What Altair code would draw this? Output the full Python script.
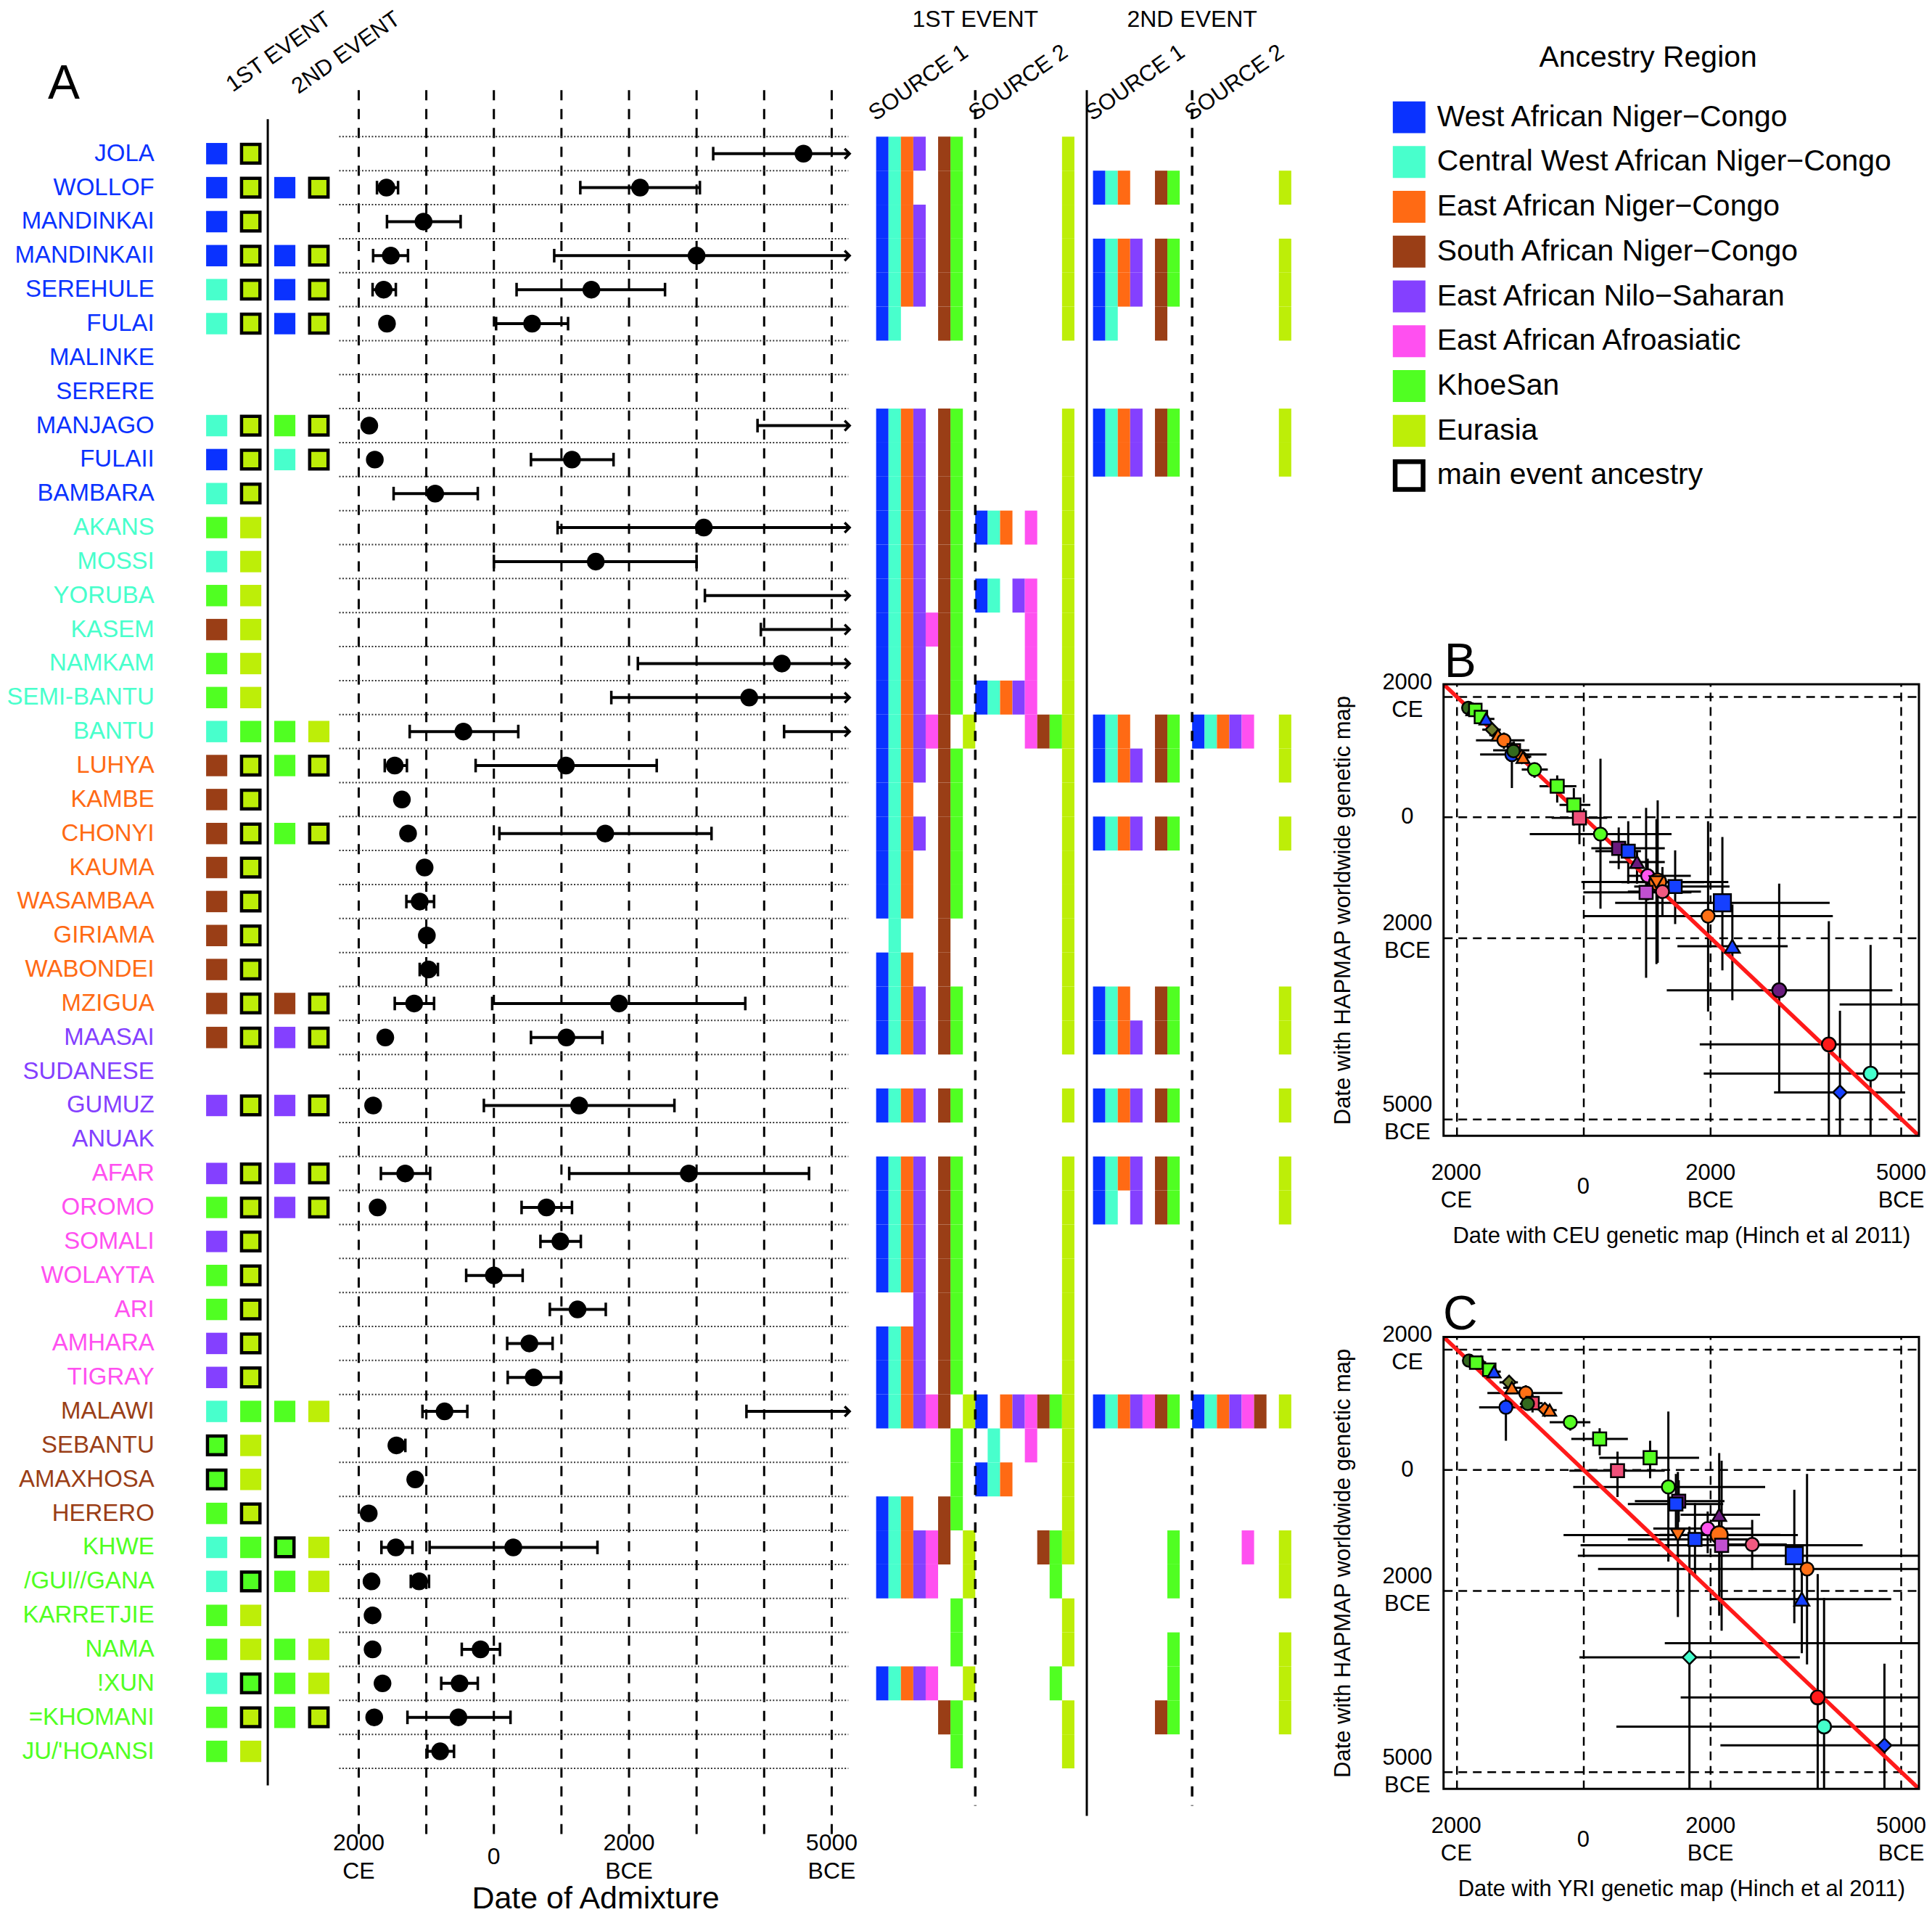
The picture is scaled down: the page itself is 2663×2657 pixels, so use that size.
import altair as alt
import pandas as pd

FONT = "Liberation Sans"

# ------------------------------------------------------------------ data
region_codes = ["W", "C", "E", "S", "N", "A", "K", "U"]
region_names = ["West African Niger−Congo", "Central West African Niger−Congo",
                "East African Niger−Congo", "South African Niger−Congo",
                "East African Nilo−Saharan", "East African Afroasiatic", "KhoeSan", "Eurasia"]
region_colors = ["#0A32FF", "#48FFCC", "#FF6A14", "#9A3E16", "#8440FF", "#FF50F0", "#50FF22", "#BDEE08"]
bar_order = ["W", "C", "E", "N", "A", "S", "K", "U"]

populations = ["JOLA", "WOLLOF", "MANDINKAI", "MANDINKAII", "SEREHULE", "FULAI", "MALINKE", "SERERE",
               "MANJAGO", "FULAII", "BAMBARA", "AKANS", "MOSSI", "YORUBA", "KASEM", "NAMKAM",
               "SEMI-BANTU", "BANTU", "LUHYA", "KAMBE", "CHONYI", "KAUMA", "WASAMBAA", "GIRIAMA",
               "WABONDEI", "MZIGUA", "MAASAI", "SUDANESE", "GUMUZ", "ANUAK", "AFAR", "OROMO",
               "SOMALI", "WOLAYTA", "ARI", "AMHARA", "TIGRAY", "MALAWI", "SEBANTU", "AMAXHOSA",
               "HERERO", "KHWE", "/GUI//GANA", "KARRETJIE", "NAMA", "!XUN", "=KHOMANI", "JU/'HOANSI"]
pop_group = ["W"] * 11 + ["C"] * 7 + ["E"] * 8 + ["N"] * 4 + ["A"] * 7 + ["S"] * 4 + ["K"] * 7

# event squares (1 = first square bordered, 2 = second square bordered)
ev1_first = ["W", "W", "W", "W", "C", "C", "", "", "C", "W", "C", "K", "C", "K", "S", "K", "K", "C",
             "S", "S", "S", "S", "S", "S", "S", "S", "S", "", "N", "", "N", "K", "N", "K", "K", "N",
             "N", "C", "K", "K", "K", "C", "C", "K", "K", "C", "K", "K"]
ev1_second = ["U", "U", "U", "U", "U", "U", "", "", "U", "U", "U", "U", "U", "U", "U", "U", "U", "K",
              "U", "U", "U", "U", "U", "U", "U", "U", "U", "", "U", "", "U", "U", "U", "U", "U", "U",
              "U", "K", "U", "U", "U", "K", "K", "U", "U", "K", "U", "U"]
ev1_main = [2, 2, 2, 2, 2, 2, 0, 0, 2, 2, 2, 0, 0, 0, 0, 0, 0, 0,
            2, 2, 2, 2, 2, 2, 2, 2, 2, 0, 2, 0, 2, 2, 2, 2, 2, 2,
            2, 0, 1, 1, 2, 0, 2, 0, 0, 2, 2, 0]
ev2_first = ["", "W", "", "W", "W", "W", "", "", "K", "C", "", "", "", "", "", "", "", "K",
             "K", "", "K", "", "", "", "", "S", "N", "", "N", "", "N", "N", "", "", "", "",
             "", "K", "", "", "", "K", "K", "", "K", "K", "K", ""]
ev2_second = ["", "U", "", "U", "U", "U", "", "", "U", "U", "", "", "", "", "", "", "", "U",
              "U", "", "U", "", "", "", "", "U", "U", "", "U", "", "U", "U", "", "", "", "",
              "", "U", "", "", "", "U", "U", "", "U", "U", "U", ""]
ev2_main = [0, 2, 0, 2, 2, 2, 0, 0, 2, 2, 0, 0, 0, 0, 0, 0, 0, 0,
            2, 0, 2, 0, 0, 0, 0, 2, 2, 0, 2, 0, 2, 2, 0, 0, 0, 0,
            0, 0, 0, 0, 0, 1, 0, 0, 0, 0, 2, 0]

# admixture sources (ancestry codes present)
src_e1s1 = ["WCENSK", "WCESK", "WCENSK", "WCENSK", "WCENSK", "WCSK", "", "", "WCENSK", "WCENSK",
            "WCENSK", "WCENSK", "WCENSK", "WCENSK", "WCENASK", "WCENSK", "WCENSK", "WCENASU",
            "WCENSK", "WCESK", "WCENSK", "WCESK", "WCESK", "CS", "WCES", "WCENSK", "WCENSK", "",
            "WCENSK", "", "WCENSK", "WCENSK", "WCENSK", "WCENSK", "NSK", "WCENSK", "WCENSK",
            "WCENASU", "K", "K", "WCESK", "WCENASU", "WCENAU", "K", "K", "WCENAU", "SK", "K"]
src_e1s2 = ["U", "U", "U", "U", "U", "U", "", "", "U", "U", "U", "WCEAU", "U", "WCNAU", "AU", "AU",
            "WCENAU", "ASKU", "U", "U", "U", "U", "U", "U", "U", "U", "U", "", "U", "", "U", "U",
            "U", "U", "U", "U", "U", "WENASKU", "CAU", "WCEU", "U", "SKU", "K", "U", "U", "K", "U", "U"]
src_e2s1 = ["", "WCESK", "", "WCENSK", "WCENSK", "WCS", "", "", "WCENSK", "WCENSK", "", "", "", "",
            "", "", "", "WCESK", "WCENSK", "", "WCENSK", "", "", "", "", "WCESK", "WCENSK", "",
            "WCENSK", "", "WCENSK", "WCNSK", "", "", "", "", "", "WCENASK", "", "", "", "K", "K",
            "", "K", "K", "SK", ""]
src_e2s2 = ["", "U", "", "U", "U", "U", "", "", "U", "U", "", "", "", "", "", "", "", "WCENAU",
            "U", "", "U", "", "", "", "", "U", "U", "", "U", "", "U", "U", "", "", "", "", "",
            "WCENASU", "", "", "", "AU", "U", "", "U", "U", "U", ""]

# admixture dates (years BCE; negative = CE)
date_row = [0, 1, 1, 2, 3, 3, 4, 4, 5, 5, 8, 8, 9, 9, 10, 11, 12, 13, 14, 15, 16, 17, 17, 18, 18, 19,
            20, 20, 21, 22, 23, 24, 25, 25, 26, 26, 28, 28, 30, 30, 31, 31, 32, 33, 34, 35, 36, 37,
            37, 38, 39, 40, 41, 41, 42, 42, 43, 44, 44, 45, 45, 46, 46, 47]
date_est = [4582, -1590, 2164, -1041, -1525, 3000, -1631, 1443, -1582, 566, -1844, None, -1762, 1156,
            -869, 3107, 1508, None, None, 4262, 3779, -451, None, -1467, 1066, -1361, -1270, 1648,
            -1025, -1098, -992, -967, -1180, 1852, -1607, 1074, -1787, 1262, -1312, 2885, -1721, 779,
            984, 0, 1238, 525, 590, -730, None, -1443, -1164, -1852, -1451, 287, -1811, -1107, -1795,
            -1795, -197, -1648, -508, -1771, -525, -795]
date_lo = [3246, -1730, 1279, -1582, -1787, 893, -1795, 336, None, 33, None, 3902, None, 549, -1484,
           943, 0, 3123, 3951, 2131, 1738, -1246, 4295, -1615, -270, -1430, None, 82, -1090, -1295,
           None, -1098, -1467, -25, -1670, 549, None, -148, -1672, 1115, None, 410, 689, -410, 828,
           197, 205, -1057, 3738, -1500, None, None, -1664, -951, None, -1230, None, None, -475,
           None, -779, None, -1279, -984]
date_hi = [None, -1418, 3049, -492, -1271, None, -1451, 2533, None, 1098, None, None, None, 1771, -238,
           None, 3000, None, None, None, None, 361, None, -1287, 2410, -1300, None, 3221, -965, -885,
           None, -828, -885, 3721, -1545, 1607, None, 2672, -943, 4664, None, 1156, 1287, 426, 1656,
           869, 992, -393, None, -1310, None, None, -1205, 1533, None, -960, None, None, 90, None,
           -238, None, 246, -590]
date_arrow = [True, False, False, False, False, True, False, False, False, False, False, True, False,
              False, False, True, False, True, True, True, True, False, True, False, False, False,
              False, False, False, False, False, False, False, False, False, False, False, False,
              False, False, False, False, False, False, False, False, False, False, True, False,
              False, False, False, False, False, False, False, False, False, False, False, False,
              False, False]
ARROW_END = 5265
tick_vals = [-2000, 0, 2000, 5000]
tick_text = ["2000\nCE", "0", "2000\nBCE", "5000\nBCE"]
grid_vals = [-2000, -1000, 0, 1000, 2000, 3000, 4000, 5000]

# panels B / C : HAPMAP date (y) versus CEU (B) and YRI (C) dates
pt_shape = ["circle", "triangle-up", "square", "square", "triangle-up", "diamond", "triangle-up",
            "circle", "square", "circle", "diamond", "triangle-up", "circle", "circle", "square",
            "square", "square", "circle", "square", "square", "triangle-up", "circle", "circle",
            "triangle-down", "square", "square", "circle", "square", "circle", "triangle-up",
            "circle", "circle", "circle", "diamond", "diamond"]
pt_color = ["#33691E", "#6A1B7E", "#55FF22", "#55FF22", "#1540FF", "#6B7A2A", "#FF7015", "#FF7015",
            "#EE4466", "#1540FF", "#FF7015", "#FF7015", "#33691E", "#55FF22", "#55FF22", "#55FF22",
            "#F0507A", "#55FF22", "#6A1B7E", "#1540FF", "#6A1B7E", "#FF55EE", "#FF7015", "#FF7015",
            "#1540FF", "#C050D0", "#F05A80", "#1540FF", "#FF7015", "#1540FF", "#6A1B7E", "#FF1A1A",
            "#44FFCC", "#1540FF", "#44FFCC"]
pt_size = [290, 330, 300, 300, 330, 330, 320, 330, 300, 330, 330, 320, 300, 330, 330, 330, 330, 330,
           330, 330, 370, 330, 560, 370, 330, 330, 330, 560, 330, 430, 370, 370, 370, 370, 370]
hap_y = [-1808, -1780, -1775, -1656, -1625, -1449, -1359, -1270, -1104, -1035, -1000, -988, -1093,
         -787, -511, -200, 14, 283, 518, 566, 745, 973, 1076, 1079, 1152, 1249, 1235, 1421, 1642,
         2139, 2870, 3767, 4250, 4561, 3104]
hap_lo = [-1850, -1830, -1820, -1720, -1700, -1560, -1450, -1400, -1250, -1240, -1100, -1080, -1180,
          -900, -690, -480, -300, -966, 173, 69, 552, 690, -276, 35, 552, -152, 828, 331, 69, 1449,
          1104, 1725, 2118, 3209, 940]
hap_hi = [-1760, -1730, -1730, -1590, -1550, -1350, -1270, -1130, -950, -480, -900, -900, -1000,
          -650, -240, 140, 450, 1518, 863, 1104, 1104, 1380, 2415, 2436, 1773, 2663, 1656, 2540, 3221,
          3035, 4554, 6000, 6000, 6000, 6000]
ceu_x = [-1812, -1737, -1700, -1612, -1531, -1437, -1343, -1250, -1094, -1125, -969, -950, -1100,
         -769, -412, -150, -62, 269, 556, 706, 844, 1012, 1169, 1150, 1444, 987, 1244, 2187, 1962,
         2344, 3081, 3862, 4519, 4037, 5700]
ceu_lo = [-1860, -1790, -1760, -1690, -1610, -1590, -1480, -1690, -1420, -1625, -1100, -1060, -1200,
          -970, -690, -375, -500, -844, 125, 188, 406, 690, -31, 600, 800, 0, 700, 500, 0, 1480,
          1312, 1831, 1894, 3000, 4031]
ceu_hi = [-1770, -1690, -1640, -1530, -1400, -1300, -1200, -925, -850, -580, -820, -840, -1000,
          -560, -110, 110, 375, 1387, 1281, 906, 1281, 1690, 2281, 1900, 2300, 1700, 1850, 3875, 3925,
          3215, 4862, 6000, 6000, 5062, 7000]
yri_x = [-1800, -1612, -1687, -1481, -1406, -1169, -1125, -906, -800, -1219, -606, -531, -875, -206,
         256, 1050, 537, 1337, 1500, 1456, 2137, 1956, 2137, 1487, 1756, 2175, 2656, 3319, 3519,
         3437, 5700, 3687, 3787, 4737, 1669]
yri_lo = [-1850, -1700, -1760, -1570, -1500, -1320, -1260, -1510, -960, -1640, -720, -640, -1000,
          -530, -190, 250, -220, -160, 810, 700, 1530, 1100, 1200, -312, 700, -44, 2100, -87, 231,
          2000, 1281, 1531, 519, 2156, -62]
yri_hi = [-1750, -1530, -1620, -1400, -1300, -1030, -980, -330, -640, -950, -490, -420, -750, 110,
          700, 1820, 1280, 2860, 2220, 2200, 2780, 2650, 3100, 3375, 2600, 4394, 3200, 6000, 6000,
          4844, 7000, 6000, 6000, 6000, 3406]
diag = [-2200, 5280]

# ------------------------------------------------------------------ layout (page pixels)
TOP, H = 8, 2630
ROW_Y0, ROW_H = 210.5, 46.9
Y_DOM = [(TOP - ROW_Y0) / ROW_H, (TOP + H - ROW_Y0) / ROW_H]
P1_L, P1_W, COL_X0, COL_W = 8, 455, 252, 47
P2_L, P2_W, X_ZERO, PX_YR = 463, 717, 681.5, 0.09324
P3_L, P3_W, SRC_X0, SRC_W = 1180, 812, 1209, 17.1
P4_W = 656
X1_DOM = [(P1_L - COL_X0) / COL_W, (P1_L + P1_W - COL_X0) / COL_W]
X2_DOM = [(P2_L - X_ZERO) / PX_YR, (P2_L + P2_W - X_ZERO) / PX_YR]
X3_DOM = [(P3_L - SRC_X0) / SRC_W, (P3_L + P3_W - SRC_X0) / SRC_W]

Y_SC = alt.Scale(domain=Y_DOM, reverse=True, nice=False, zero=False)
COLOR_SC = alt.Scale(domain=region_codes, range=region_colors)
ONE = pd.DataFrame({"k": [0]})


def place(chart, **kw):
    """fixed annotation positions, expressed in the panel's data units"""
    return chart.transform_calculate(**{k: repr(float(v)) for k, v in kw.items()})


def Yq(field):
    return alt.Y(field, scale=Y_SC, axis=None)


# ------------------------------------------------------------------ panel A: labels + squares
sq_records = []
for r in range(len(populations)):
    for col, code, main in [(1, ev1_first[r], ev1_main[r] == 1), (2, ev1_second[r], ev1_main[r] == 2),
                            (3, ev2_first[r], ev2_main[r] == 1), (4, ev2_second[r], ev2_main[r] == 2)]:
        if code:
            sq_records.append({"row": r, "col": col, "code": code, "main": 1 if main else 0})
sq_df = pd.DataFrame(sq_records)
X1_SC = alt.Scale(domain=X1_DOM, nice=False, zero=False)

sq_plain = alt.Chart(sq_df).transform_filter("datum.main == 0").transform_calculate(
    xa="datum.col - 0.31", xb="datum.col + 0.31", ya="datum.row - 0.3145", yb="datum.row + 0.3145"
).mark_rect().encode(
    x=alt.X("xa:Q", scale=X1_SC, axis=None), x2="xb:Q", y=Yq("ya:Q"), y2="yb:Q",
    color=alt.Color("code:N", scale=COLOR_SC, legend=None))
sq_main = alt.Chart(sq_df).transform_filter("datum.main == 1").transform_calculate(
    xa="datum.col - 0.27", xb="datum.col + 0.27", ya="datum.row - 0.275", yb="datum.row + 0.275"
).mark_rect(stroke="black", strokeWidth=4.5).encode(
    x=alt.X("xa:Q", scale=X1_SC, axis=None), x2="xb:Q", y=Yq("ya:Q"), y2="yb:Q",
    color=alt.Color("code:N", scale=COLOR_SC, legend=None))

lab_df = pd.DataFrame({"row": list(range(len(populations))), "name": populations, "grp": pop_group})
labels = place(alt.Chart(lab_df), lx=-0.83).mark_text(align="right", baseline="middle", fontSize=33).encode(
    x=alt.X("lx:Q", scale=X1_SC, axis=None), y=Yq("row:Q"), text="name:N",
    color=alt.Color("grp:N", scale=COLOR_SC, legend=None))

sep_line = place(alt.Chart(ONE), sx=2.5, sy1=-1.013, sy2=48.0).mark_rule(color="black", strokeWidth=3).encode(
    x=alt.X("sx:Q", scale=X1_SC, axis=None), y=Yq("sy1:Q"), y2="sy2:Q")

ev_head = alt.Chart(pd.DataFrame({"t": ["1ST EVENT", "2ND EVENT"], "c": [1.47, 3.40], "r": [-1.80, -1.74]})
                    ).mark_text(angle=325, align="left", baseline="alphabetic", fontSize=31).encode(
    x=alt.X("c:Q", scale=X1_SC, axis=None), y=Yq("r:Q"), text="t:N")
letter_a = place(alt.Chart(pd.DataFrame({"t": ["A"]})), ax=-3.49, ay=-2.04).mark_text(
    fontSize=66, baseline="middle").encode(
    x=alt.X("ax:Q", scale=X1_SC, axis=None), y=Yq("ay:Q"), text="t:N")

p1 = alt.layer(sq_plain, sq_main, labels, sep_line, ev_head, letter_a).properties(width=P1_W, height=H)

# ------------------------------------------------------------------ panel A: dates
X2_SC = alt.Scale(domain=X2_DOM, nice=False, zero=False)
dates = pd.DataFrame({"row": date_row, "est": date_est, "lo": date_lo, "hi": date_hi,
                      "arrow": [1 if a else 0 for a in date_arrow]})


def Xd(field):
    return alt.X(field, scale=X2_SC, axis=None)


vgrid = place(alt.Chart(pd.DataFrame({"v": grid_vals})), g1=-1.866, g2=49.46).mark_rule(
    color="black", strokeWidth=3, strokeDash=[14, 12]).encode(x=Xd("v:Q"), y=Yq("g1:Q"), y2="g2:Q")
hgrid = place(alt.Chart(pd.DataFrame({"b": [r - 0.5 for r in range(len(populations) + 1)]})),
              h1=-2290, h2=5246).mark_rule(color="#333333", strokeWidth=2, strokeDash=[2, 2.5]).encode(
    y=Yq("b:Q"), x=Xd("h1:Q"), x2="h2:Q")
ci = alt.Chart(dates).transform_filter("isValid(datum.lo)").transform_calculate(
    xe=f"datum.arrow == 1 ? {ARROW_END} : datum.hi").mark_rule(color="black", strokeWidth=4).encode(
    x=Xd("lo:Q"), x2="xe:Q", y=Yq("row:Q"))
cap_lo = alt.Chart(dates).transform_filter("isValid(datum.lo)").transform_calculate(
    ya="datum.row - 0.2", yb="datum.row + 0.2").mark_rule(color="black", strokeWidth=3.5).encode(
    x=Xd("lo:Q"), y=Yq("ya:Q"), y2="yb:Q")
cap_hi = alt.Chart(dates).transform_filter("isValid(datum.hi) && datum.arrow == 0").transform_calculate(
    ya="datum.row - 0.2", yb="datum.row + 0.2").mark_rule(color="black", strokeWidth=3.5).encode(
    x=Xd("hi:Q"), y=Yq("ya:Q"), y2="yb:Q")
arrows = place(alt.Chart(dates).transform_filter("datum.arrow == 1"), ax=ARROW_END).mark_point(
    shape="M -1 -1 L 0 0 L -1 1", filled=False, stroke="black", strokeWidth=3.5, size=190, opacity=1
).encode(x=Xd("ax:Q"), y=Yq("row:Q"))
dots = alt.Chart(dates).transform_filter("isValid(datum.est)").mark_circle(
    color="black", size=600, opacity=1).encode(x=Xd("est:Q"), y=Yq("row:Q"))
# two-line labels: first line sits half a line above the label centre
ticks_a = alt.Chart(pd.DataFrame({"v": tick_vals, "t": tick_text})).transform_calculate(
    ty="indexof(datum.t, '\\n') >= 0 ? 49.69 : 50.11").mark_text(
    lineBreak="\n", baseline="middle", fontSize=32, lineHeight=39).encode(
    x=Xd("v:Q"), y=Yq("ty:Q"), text="t:N")
xtitle_a = place(alt.Chart(pd.DataFrame({"t": ["Date of Admixture"]})), tx=1507, ty=51.63).mark_text(
    fontSize=43, baseline="alphabetic").encode(x=Xd("tx:Q"), y=Yq("ty:Q"), text="t:N")

p2 = alt.layer(vgrid, hgrid, ci, cap_lo, cap_hi, arrows, dots, ticks_a, xtitle_a).properties(
    width=P2_W, height=H)

# ------------------------------------------------------------------ panel A: sources
X3_SC = alt.Scale(domain=X3_DOM, nice=False, zero=False)


def Xs(field):
    return alt.X(field, scale=X3_SC, axis=None)


src_offsets = [0, 8, 17.5, 25.5]
bar_records = []
for r in range(len(populations)):
    for off, s in zip(src_offsets, [src_e1s1[r], src_e1s2[r], src_e2s1[r], src_e2s2[r]]):
        for j, code in enumerate(bar_order):
            if code in s:
                bar_records.append({"row": r, "x0": off + j, "code": code})
bars_df = pd.DataFrame(bar_records)
bars = alt.Chart(bars_df).transform_calculate(
    x1="datum.x0 + 1", ya="datum.row - 0.5", yb="datum.row + 0.5").mark_rect().encode(
    x=Xs("x0:Q"), x2="x1:Q", y=Yq("ya:Q"), y2="yb:Q",
    color=alt.Color("code:N", scale=COLOR_SC, legend=None))
src_dash = place(alt.Chart(pd.DataFrame({"x": [8, 25.5]})), d1=-1.866, d2=48.6).mark_rule(
    color="black", strokeWidth=3.5, strokeDash=[14, 12]).encode(x=Xs("x:Q"), y=Yq("d1:Q"), y2="d2:Q")
src_solid = place(alt.Chart(ONE), sx=17, d1=-1.866, d2=48.9).mark_rule(color="black", strokeWidth=3).encode(
    x=Xs("sx:Q"), y=Yq("d1:Q"), y2="d2:Q")
src_head = place(alt.Chart(pd.DataFrame({"t": ["1ST EVENT", "2ND EVENT"], "x": [8, 25.5]})), hy=-3.94
                 ).mark_text(fontSize=32, baseline="middle").encode(x=Xs("x:Q"), y=Yq("hy:Q"), text="t:N")
src_lab = place(alt.Chart(pd.DataFrame({"t": ["SOURCE 1", "SOURCE 2", "SOURCE 1", "SOURCE 2"],
                                        "x": [-0.06, 8.0, 17.43, 25.45]})), ly=-0.95).mark_text(
    angle=325, align="left", baseline="alphabetic", fontSize=31).encode(x=Xs("x:Q"), y=Yq("ly:Q"), text="t:N")

p3 = alt.layer(bars, src_dash, src_solid, src_head, src_lab).properties(width=P3_W, height=H)

# ------------------------------------------------------------------ legend
LEG_H = 656.5
LY_SC = alt.Scale(domain=[(TOP - 160.3) / 61.8, (TOP + LEG_H - 160.3) / 61.8], reverse=True,
                  nice=False, zero=False)
LX_SC = alt.Scale(domain=[0, P4_W / 45], nice=False, zero=False)


def Xl(field):
    return alt.X(field, scale=LX_SC, axis=None)


def Yl(field):
    return alt.Y(field, scale=LY_SC, axis=None)


leg_df = pd.DataFrame({"row": list(range(8)), "code": region_codes})
leg_sq = place(alt.Chart(leg_df), qa=-1.556, qb=-0.556).transform_calculate(
    ya="datum.row - 0.356", yb="datum.row + 0.356").mark_rect().encode(
    x=Xl("qa:Q"), x2="qb:Q", y=Yl("ya:Q"), y2="yb:Q",
    color=alt.Color("code:N", scale=COLOR_SC, legend=None))
leg_main = place(alt.Chart(pd.DataFrame({"row": [8]})), qa=-1.484, qb=-0.628).transform_calculate(
    ya="datum.row - 0.31", yb="datum.row + 0.31").mark_rect(
    fill="white", stroke="black", strokeWidth=6.5).encode(x=Xl("qa:Q"), x2="qb:Q", y=Yl("ya:Q"), y2="yb:Q")
leg_txt = place(alt.Chart(pd.DataFrame({"row": list(range(9)),
                                        "name": region_names + ["main event ancestry"]})), tx=-0.2).mark_text(
    align="left", baseline="middle", fontSize=41).encode(x=Xl("tx:Q"), y=Yl("row:Q"), text="name:N")
leg_title = place(alt.Chart(pd.DataFrame({"t": ["Ancestry Region"]})), tx=6.27, ty=-1.327).mark_text(
    fontSize=41, baseline="middle").encode(x=Xl("tx:Q"), y=Yl("ty:Q"), text="t:N")
legend = alt.layer(leg_sq, leg_main, leg_txt, leg_title).properties(width=P4_W, height=LEG_H)


# ------------------------------------------------------------------ panels B and C
def scatter(xc, xlo, xhi, xtitle, letter, height):
    df = pd.DataFrame({"y": hap_y, "ylo": hap_lo, "yhi": hap_hi, "x": xc, "xlo": xlo, "xhi": xhi,
                       "shape": pt_shape, "color": pt_color, "size": pt_size})
    xs = alt.Scale(domain=diag, nice=False, zero=False)
    ys = alt.Scale(domain=diag, nice=False, zero=False, reverse=True)
    upx = (diag[1] - diag[0]) / P4_W          # data units per pixel, x
    upy = (diag[1] - diag[0]) / height        # data units per pixel, y
    common = dict(values=tick_vals, grid=True, gridDash=[12, 8], gridColor="black", gridWidth=2.5,
                  gridOpacity=1, domain=False, ticks=False, labels=False, titleFontSize=31,
                  titleFontWeight="normal", titleColor="black", titleAlign="center",
                  titleBaseline="middle")
    xax = alt.Axis(title=xtitle, titleX=P4_W / 2, titleY=138, **common)
    yax = alt.Axis(title="Date with HAPMAP worldwide genetic map", titleX=-138,
                   titleY=height / 2, titleAngle=270, **common)

    def X(f):
        return alt.X(f, scale=xs, axis=xax)

    def Y(f):
        return alt.Y(f, scale=ys, axis=yax)

    base = alt.Chart(df)
    herr = base.mark_rule(color="black", strokeWidth=3, clip=True).encode(x=X("xlo:Q"), x2="xhi:Q", y=Y("y:Q"))
    verr = base.mark_rule(color="black", strokeWidth=3, clip=True).encode(x=X("x:Q"), y=Y("ylo:Q"), y2="yhi:Q")
    dg = pd.DataFrame({"d": diag})
    line = alt.Chart(dg).mark_line(color="#FF1A1A", strokeWidth=5.5, clip=True).encode(x=X("d:Q"), y=Y("d:Q"))
    frame = alt.Chart(pd.DataFrame({"a": [diag[0]], "b": [diag[1]]})).mark_rect(
        fill=None, stroke="black", strokeWidth=3).encode(x=X("a:Q"), x2="b:Q", y=Y("a:Q"), y2="b:Q")
    pts = base.mark_point(filled=True, stroke="black", strokeWidth=2.5, opacity=1, clip=True).encode(
        x=X("x:Q"), y=Y("y:Q"), shape=alt.Shape("shape:N", scale=None),
        fill=alt.Fill("color:N", scale=None), size=alt.Size("size:Q", scale=None))
    tick_df = pd.DataFrame({"v": tick_vals, "t": tick_text})
    two = "indexof(datum.t, '\\n') >= 0"
    xlabels = alt.Chart(tick_df).transform_calculate(
        ly=f"{two} ? {diag[1] + 52 * upy} : {diag[1] + 71 * upy}").mark_text(
        lineBreak="\n", baseline="middle", fontSize=31, lineHeight=38).encode(
        x=X("v:Q"), y=Y("ly:Q"), text="t:N")
    ylabels = alt.Chart(tick_df).transform_calculate(
        lx=f"{diag[0] - 50 * upx}", ly=f"{two} ? datum.v - {19 * upy} : datum.v").mark_text(
        lineBreak="\n", baseline="middle", fontSize=31, lineHeight=38).encode(
        x=X("lx:Q"), y=Y("ly:Q"), text="t:N")
    let = place(alt.Chart(pd.DataFrame({"t": [letter]})), lx=-1938, ly=-2560).mark_text(
        fontSize=66, baseline="middle").encode(x=X("lx:Q"), y=Y("ly:Q"), text="t:N")
    return alt.layer(herr, verr, line, pts, frame, xlabels, ylabels, let).properties(width=P4_W, height=height)


panel_b = scatter(ceu_x, ceu_lo, ceu_hi, "Date with CEU genetic map (Hinch et al 2011)", "B", 623)
panel_c = scatter(yri_x, yri_lo, yri_hi, "Date with YRI genetic map (Hinch et al 2011)", "C", 623.5)

right = alt.vconcat(legend, panel_b, panel_c, spacing=277.5, bounds="flush")

chart = alt.hconcat(p1, p2, p3, right, spacing=0, bounds="flush").resolve_scale(
    x="independent", y="independent").properties(padding=0, background="white").configure(
    font=FONT).configure_view(stroke=None).configure_text(color="black")

chart.save("out.html", embed_options={"renderer": "svg", "actions": False})
